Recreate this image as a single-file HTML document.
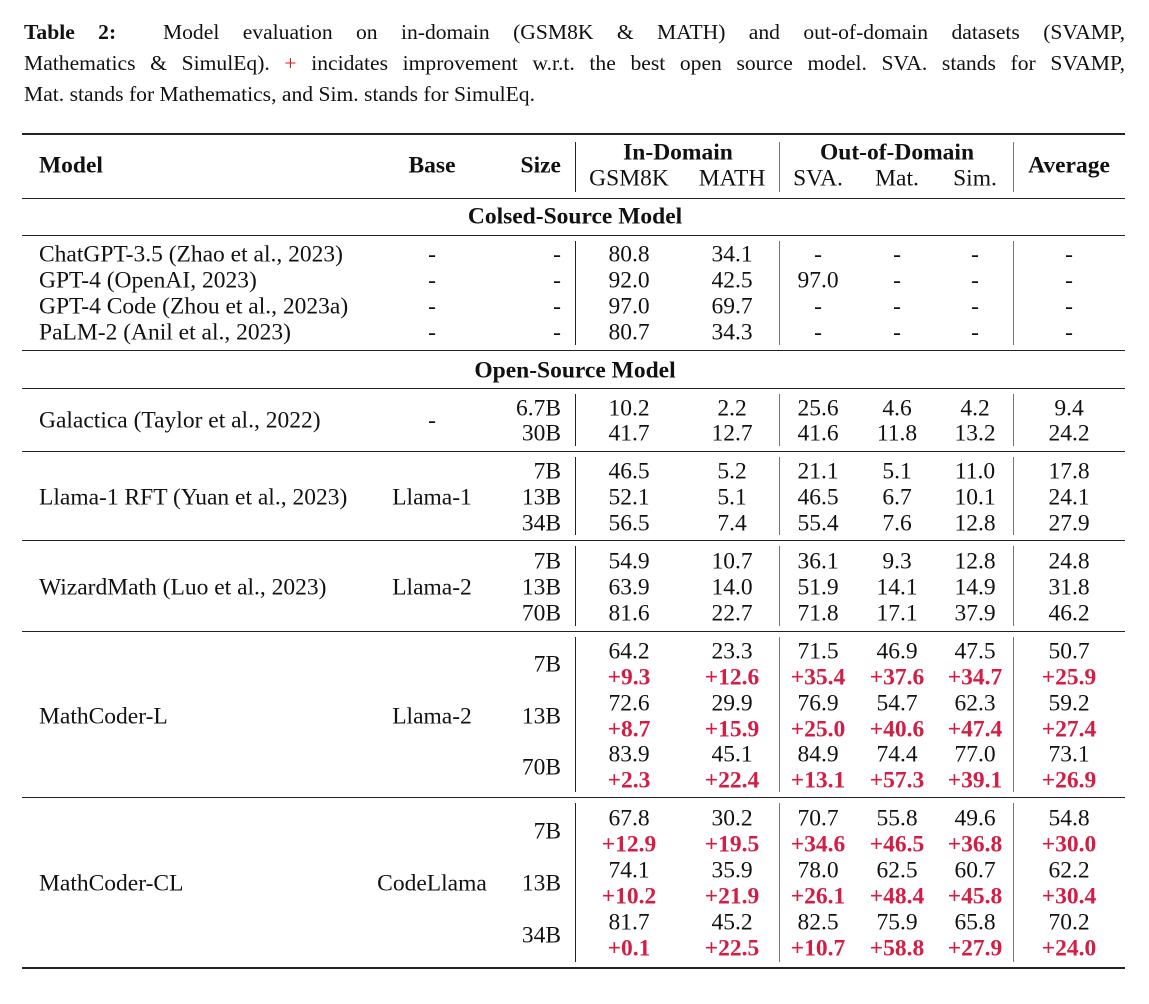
<!DOCTYPE html>
<html><head><meta charset="utf-8"><style>
html,body{margin:0;padding:0;background:#fff;}
body{width:1149px;height:1004px;position:relative;overflow:hidden;font-family:"Liberation Serif",serif;color:#111;font-size:23.5px;}
.t{position:absolute;white-space:nowrap;line-height:1;}
.c{transform:translate(-50%,-50%);}
.r{transform:translate(-100%,-50%);}
.l{transform:translate(0,-50%);}
.b{font-weight:bold;}
.p{color:#d41c44;font-weight:bold;}
.cap{position:absolute;left:24px;width:1101px;font-size:21.6px;line-height:1;white-space:nowrap;}
.j{text-align:justify;text-align-last:justify;white-space:normal;}
.h{position:absolute;left:22px;width:1103px;background:#222;}
.v{position:absolute;width:1.3px;}
</style></head><body>
<div class="cap j" style="top:22px"><b>Table 2:</b>&nbsp; Model evaluation on in-domain (GSM8K &amp; MATH) and out-of-domain datasets (SVAMP,</div>
<div class="cap j" style="top:53px">Mathematics &amp; SimulEq). <span style="color:#e0141e">+</span> incidates improvement w.r.t. the best open source model. SVA. stands for SVAMP,</div>
<div class="cap" style="top:84px">Mat. stands for Mathematics, and Sim. stands for SimulEq.</div>

<div class="h" style="top:133px;height:2px"></div>
<div class="h" style="top:198px;height:1.3px"></div>
<div class="h" style="top:235px;height:1.3px"></div>
<div class="h" style="top:350px;height:1.3px"></div>
<div class="h" style="top:388px;height:1.3px"></div>
<div class="h" style="top:451px;height:1.3px"></div>
<div class="h" style="top:540px;height:1.3px"></div>
<div class="h" style="top:631px;height:1.3px"></div>
<div class="h" style="top:797px;height:1.3px"></div>
<div class="h" style="top:967px;height:2px"></div>

<div class="v" style="left:575px;top:142px;height:50px;background:#222"></div>
<div class="v" style="left:779px;top:142px;height:50px;background:#777"></div>
<div class="v" style="left:1013px;top:142px;height:50px;background:#777"></div>
<div class="v" style="left:575px;top:241px;height:104px;background:#222"></div>
<div class="v" style="left:779px;top:241px;height:104px;background:#777"></div>
<div class="v" style="left:1013px;top:241px;height:104px;background:#777"></div>
<div class="v" style="left:575px;top:394px;height:52px;background:#222"></div>
<div class="v" style="left:779px;top:394px;height:52px;background:#777"></div>
<div class="v" style="left:1013px;top:394px;height:52px;background:#777"></div>
<div class="v" style="left:575px;top:457px;height:78px;background:#222"></div>
<div class="v" style="left:779px;top:457px;height:78px;background:#777"></div>
<div class="v" style="left:1013px;top:457px;height:78px;background:#777"></div>
<div class="v" style="left:575px;top:546px;height:80px;background:#222"></div>
<div class="v" style="left:779px;top:546px;height:80px;background:#777"></div>
<div class="v" style="left:1013px;top:546px;height:80px;background:#777"></div>
<div class="v" style="left:575px;top:637px;height:155px;background:#222"></div>
<div class="v" style="left:779px;top:637px;height:155px;background:#777"></div>
<div class="v" style="left:1013px;top:637px;height:155px;background:#777"></div>
<div class="v" style="left:575px;top:803px;height:159px;background:#222"></div>
<div class="v" style="left:779px;top:803px;height:159px;background:#777"></div>
<div class="v" style="left:1013px;top:803px;height:159px;background:#777"></div>

<div class="t l b" style="left:39px;top:166px">Model</div>
<div class="t c b" style="left:432px;top:166px">Base</div>
<div class="t r b" style="left:561px;top:166px">Size</div>
<div class="t c b" style="left:678px;top:153px">In-Domain</div>
<div class="t c" style="left:629px;top:179px">GSM8K</div>
<div class="t c" style="left:732px;top:179px">MATH</div>
<div class="t c b" style="left:897px;top:153px">Out-of-Domain</div>
<div class="t c" style="left:818px;top:179px">SVA.</div>
<div class="t c" style="left:897px;top:179px">Mat.</div>
<div class="t c" style="left:975px;top:179px">Sim.</div>
<div class="t c b" style="left:1069px;top:166px">Average</div>

<div class="t c b" style="left:575px;top:217px">Colsed-Source Model</div>

<div class="t l" style="left:39px;top:255px">ChatGPT-3.5 (Zhao et al., 2023)</div>
<div class="t l" style="left:39px;top:281px">GPT-4 (OpenAI, 2023)</div>
<div class="t l" style="left:39px;top:307px">GPT-4 Code (Zhou et al., 2023a)</div>
<div class="t l" style="left:39px;top:333px">PaLM-2 (Anil et al., 2023)</div>

<div class="t c" style="left:432px;top:255px">-</div><div class="t r" style="left:561px;top:255px">-</div>
<div class="t c" style="left:629px;top:255px">80.8</div><div class="t c" style="left:732px;top:255px">34.1</div>
<div class="t c" style="left:818px;top:255px">-</div><div class="t c" style="left:897px;top:255px">-</div><div class="t c" style="left:975px;top:255px">-</div><div class="t c" style="left:1069px;top:255px">-</div>

<div class="t c" style="left:432px;top:281px">-</div><div class="t r" style="left:561px;top:281px">-</div>
<div class="t c" style="left:629px;top:281px">92.0</div><div class="t c" style="left:732px;top:281px">42.5</div>
<div class="t c" style="left:818px;top:281px">97.0</div><div class="t c" style="left:897px;top:281px">-</div><div class="t c" style="left:975px;top:281px">-</div><div class="t c" style="left:1069px;top:281px">-</div>

<div class="t c" style="left:432px;top:307px">-</div><div class="t r" style="left:561px;top:307px">-</div>
<div class="t c" style="left:629px;top:307px">97.0</div><div class="t c" style="left:732px;top:307px">69.7</div>
<div class="t c" style="left:818px;top:307px">-</div><div class="t c" style="left:897px;top:307px">-</div><div class="t c" style="left:975px;top:307px">-</div><div class="t c" style="left:1069px;top:307px">-</div>

<div class="t c" style="left:432px;top:333px">-</div><div class="t r" style="left:561px;top:333px">-</div>
<div class="t c" style="left:629px;top:333px">80.7</div><div class="t c" style="left:732px;top:333px">34.3</div>
<div class="t c" style="left:818px;top:333px">-</div><div class="t c" style="left:897px;top:333px">-</div><div class="t c" style="left:975px;top:333px">-</div><div class="t c" style="left:1069px;top:333px">-</div>

<div class="t c b" style="left:575px;top:371px">Open-Source Model</div>

<div class="t l" style="left:39px;top:421px">Galactica (Taylor et al., 2022)</div>
<div class="t c" style="left:432px;top:421px">-</div>
<div class="t r" style="left:561px;top:409px">6.7B</div><div class="t c" style="left:629px;top:409px">10.2</div><div class="t c" style="left:732px;top:409px">2.2</div><div class="t c" style="left:818px;top:409px">25.6</div><div class="t c" style="left:897px;top:409px">4.6</div><div class="t c" style="left:975px;top:409px">4.2</div><div class="t c" style="left:1069px;top:409px">9.4</div>
<div class="t r" style="left:561px;top:434px">30B</div><div class="t c" style="left:629px;top:434px">41.7</div><div class="t c" style="left:732px;top:434px">12.7</div><div class="t c" style="left:818px;top:434px">41.6</div><div class="t c" style="left:897px;top:434px">11.8</div><div class="t c" style="left:975px;top:434px">13.2</div><div class="t c" style="left:1069px;top:434px">24.2</div>

<div class="t l" style="left:39px;top:498px">Llama-1 RFT (Yuan et al., 2023)</div>
<div class="t c" style="left:432px;top:498px">Llama-1</div>
<div class="t r" style="left:561px;top:472px">7B</div><div class="t c" style="left:629px;top:472px">46.5</div><div class="t c" style="left:732px;top:472px">5.2</div><div class="t c" style="left:818px;top:472px">21.1</div><div class="t c" style="left:897px;top:472px">5.1</div><div class="t c" style="left:975px;top:472px">11.0</div><div class="t c" style="left:1069px;top:472px">17.8</div>
<div class="t r" style="left:561px;top:498px">13B</div><div class="t c" style="left:629px;top:498px">52.1</div><div class="t c" style="left:732px;top:498px">5.1</div><div class="t c" style="left:818px;top:498px">46.5</div><div class="t c" style="left:897px;top:498px">6.7</div><div class="t c" style="left:975px;top:498px">10.1</div><div class="t c" style="left:1069px;top:498px">24.1</div>
<div class="t r" style="left:561px;top:524px">34B</div><div class="t c" style="left:629px;top:524px">56.5</div><div class="t c" style="left:732px;top:524px">7.4</div><div class="t c" style="left:818px;top:524px">55.4</div><div class="t c" style="left:897px;top:524px">7.6</div><div class="t c" style="left:975px;top:524px">12.8</div><div class="t c" style="left:1069px;top:524px">27.9</div>

<div class="t l" style="left:39px;top:588px">WizardMath (Luo et al., 2023)</div>
<div class="t c" style="left:432px;top:588px">Llama-2</div>
<div class="t r" style="left:561px;top:562px">7B</div><div class="t c" style="left:629px;top:562px">54.9</div><div class="t c" style="left:732px;top:562px">10.7</div><div class="t c" style="left:818px;top:562px">36.1</div><div class="t c" style="left:897px;top:562px">9.3</div><div class="t c" style="left:975px;top:562px">12.8</div><div class="t c" style="left:1069px;top:562px">24.8</div>
<div class="t r" style="left:561px;top:588px">13B</div><div class="t c" style="left:629px;top:588px">63.9</div><div class="t c" style="left:732px;top:588px">14.0</div><div class="t c" style="left:818px;top:588px">51.9</div><div class="t c" style="left:897px;top:588px">14.1</div><div class="t c" style="left:975px;top:588px">14.9</div><div class="t c" style="left:1069px;top:588px">31.8</div>
<div class="t r" style="left:561px;top:614px">70B</div><div class="t c" style="left:629px;top:614px">81.6</div><div class="t c" style="left:732px;top:614px">22.7</div><div class="t c" style="left:818px;top:614px">71.8</div><div class="t c" style="left:897px;top:614px">17.1</div><div class="t c" style="left:975px;top:614px">37.9</div><div class="t c" style="left:1069px;top:614px">46.2</div>

<div class="t l" style="left:39px;top:717px">MathCoder-L</div>
<div class="t c" style="left:432px;top:717px">Llama-2</div>
<div class="t r" style="left:561px;top:665px">7B</div>
<div class="t c" style="left:629px;top:652px">64.2</div><div class="t c" style="left:732px;top:652px">23.3</div><div class="t c" style="left:818px;top:652px">71.5</div><div class="t c" style="left:897px;top:652px">46.9</div><div class="t c" style="left:975px;top:652px">47.5</div><div class="t c" style="left:1069px;top:652px">50.7</div>
<div class="t c p" style="left:629px;top:678px">+9.3</div><div class="t c p" style="left:732px;top:678px">+12.6</div><div class="t c p" style="left:818px;top:678px">+35.4</div><div class="t c p" style="left:897px;top:678px">+37.6</div><div class="t c p" style="left:975px;top:678px">+34.7</div><div class="t c p" style="left:1069px;top:678px">+25.9</div>
<div class="t r" style="left:561px;top:717px">13B</div>
<div class="t c" style="left:629px;top:704px">72.6</div><div class="t c" style="left:732px;top:704px">29.9</div><div class="t c" style="left:818px;top:704px">76.9</div><div class="t c" style="left:897px;top:704px">54.7</div><div class="t c" style="left:975px;top:704px">62.3</div><div class="t c" style="left:1069px;top:704px">59.2</div>
<div class="t c p" style="left:629px;top:730px">+8.7</div><div class="t c p" style="left:732px;top:730px">+15.9</div><div class="t c p" style="left:818px;top:730px">+25.0</div><div class="t c p" style="left:897px;top:730px">+40.6</div><div class="t c p" style="left:975px;top:730px">+47.4</div><div class="t c p" style="left:1069px;top:730px">+27.4</div>
<div class="t r" style="left:561px;top:768px">70B</div>
<div class="t c" style="left:629px;top:755px">83.9</div><div class="t c" style="left:732px;top:755px">45.1</div><div class="t c" style="left:818px;top:755px">84.9</div><div class="t c" style="left:897px;top:755px">74.4</div><div class="t c" style="left:975px;top:755px">77.0</div><div class="t c" style="left:1069px;top:755px">73.1</div>
<div class="t c p" style="left:629px;top:781px">+2.3</div><div class="t c p" style="left:732px;top:781px">+22.4</div><div class="t c p" style="left:818px;top:781px">+13.1</div><div class="t c p" style="left:897px;top:781px">+57.3</div><div class="t c p" style="left:975px;top:781px">+39.1</div><div class="t c p" style="left:1069px;top:781px">+26.9</div>

<div class="t l" style="left:39px;top:884px">MathCoder-CL</div>
<div class="t c" style="left:432px;top:884px">CodeLlama</div>
<div class="t r" style="left:561px;top:832px">7B</div>
<div class="t c" style="left:629px;top:819px">67.8</div><div class="t c" style="left:732px;top:819px">30.2</div><div class="t c" style="left:818px;top:819px">70.7</div><div class="t c" style="left:897px;top:819px">55.8</div><div class="t c" style="left:975px;top:819px">49.6</div><div class="t c" style="left:1069px;top:819px">54.8</div>
<div class="t c p" style="left:629px;top:845px">+12.9</div><div class="t c p" style="left:732px;top:845px">+19.5</div><div class="t c p" style="left:818px;top:845px">+34.6</div><div class="t c p" style="left:897px;top:845px">+46.5</div><div class="t c p" style="left:975px;top:845px">+36.8</div><div class="t c p" style="left:1069px;top:845px">+30.0</div>
<div class="t r" style="left:561px;top:884px">13B</div>
<div class="t c" style="left:629px;top:871px">74.1</div><div class="t c" style="left:732px;top:871px">35.9</div><div class="t c" style="left:818px;top:871px">78.0</div><div class="t c" style="left:897px;top:871px">62.5</div><div class="t c" style="left:975px;top:871px">60.7</div><div class="t c" style="left:1069px;top:871px">62.2</div>
<div class="t c p" style="left:629px;top:897px">+10.2</div><div class="t c p" style="left:732px;top:897px">+21.9</div><div class="t c p" style="left:818px;top:897px">+26.1</div><div class="t c p" style="left:897px;top:897px">+48.4</div><div class="t c p" style="left:975px;top:897px">+45.8</div><div class="t c p" style="left:1069px;top:897px">+30.4</div>
<div class="t r" style="left:561px;top:936px">34B</div>
<div class="t c" style="left:629px;top:923px">81.7</div><div class="t c" style="left:732px;top:923px">45.2</div><div class="t c" style="left:818px;top:923px">82.5</div><div class="t c" style="left:897px;top:923px">75.9</div><div class="t c" style="left:975px;top:923px">65.8</div><div class="t c" style="left:1069px;top:923px">70.2</div>
<div class="t c p" style="left:629px;top:949px">+0.1</div><div class="t c p" style="left:732px;top:949px">+22.5</div><div class="t c p" style="left:818px;top:949px">+10.7</div><div class="t c p" style="left:897px;top:949px">+58.8</div><div class="t c p" style="left:975px;top:949px">+27.9</div><div class="t c p" style="left:1069px;top:949px">+24.0</div>
</body></html>
